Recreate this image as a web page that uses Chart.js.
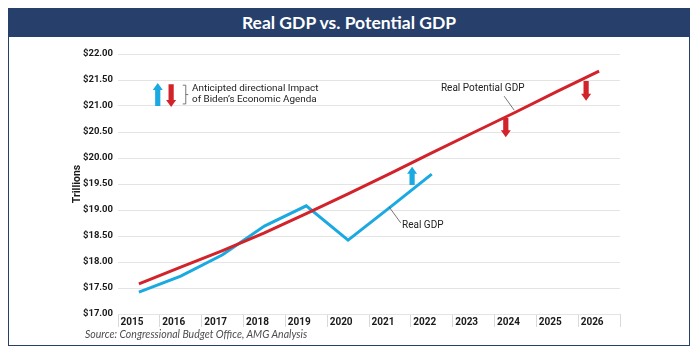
<!DOCTYPE html>
<html>
<head>
<meta charset="utf-8">
<script src="https://cdn.jsdelivr.net/npm/chart.js@4.4.1/dist/chart.umd.min.js"></script>
<style>
  html, body { margin: 0; padding: 0; background: #fff; }
  #wrap { position: relative; width: 699px; height: 353px; overflow: hidden; }
  #frame { position: absolute; left: 8px; top: 8px; width: 682px; height: 338px; box-sizing: border-box; border: 1.5px solid #263f6b; }
  #titlebar { position: absolute; left: 8px; top: 8px; width: 682px; height: 29px; background: #263f6b;
    color: #fff; font: 700 17.5px Lato, sans-serif; text-align: center; line-height: 29px; }
  #source { position: absolute; left: 85px; top: 328px; font: italic 10.5px Lato, sans-serif; color: #4d4d4d; white-space: nowrap; }
  canvas { position: absolute; left: 0; top: 0; }
</style>
</head>
<body>
<div id="wrap">
  <div id="frame"></div>
  <div id="titlebar">Real GDP vs. Potential GDP</div>
  <canvas id="chart" width="699" height="353"></canvas>
  <div id="source">Source: Congressional Budget Office, AMG Analysis</div>
</div>
<script>
const years = [2015, 2016, 2017, 2018, 2019, 2020, 2021, 2022, 2023, 2024, 2025, 2026];
const realGdp = [17.42, 17.73, 18.14, 18.69, 19.08, 18.42, 19.05, 19.69, null, null, null, null];
const potentialGdp = [17.58, 17.90, 18.22, 18.56, 18.93, 19.31, 19.70, 20.10, 20.49, 20.88, 21.28, 21.67];
const yTickValues = [17, 17.5, 18, 18.5, 19, 19.5, 20, 20.5, 21, 21.5, 22];

const BLUE = '#1aa9e1';
const RED = '#d2232a';
const FONT = "Roboto, 'Noto Sans', sans-serif";

// separators sit between the years
const yearEdges = years.map(yr => yr - 0.5).concat(years[years.length - 1] + 0.5);

// callouts, placed in data units (year, trillions)
const arrows = [
  { x: 2015.45, tail: 21.0, head: 21.44, color: BLUE },
  { x: 2015.77, tail: 21.42, head: 20.98, color: RED },
  { x: 2021.53, tail: 19.48, head: 19.83, color: BLUE },
  { x: 2023.77, tail: 20.77, head: 20.40, color: RED },
  { x: 2025.69, tail: 21.48, head: 21.10, color: RED }
];
const notes = [
  { x: 2016.27, y: 21.33, size: 9.9, text: 'Anticipted directional Impact' },
  { x: 2016.27, y: 21.12, size: 9.9, text: 'of Biden\u2019s Economic Agenda' },
  { x: 2022.22, y: 21.33, size: 10, text: 'Real Potential GDP' },
  { x: 2021.29, y: 18.71, size: 10, text: 'Real GDP' }
];
const leaders = [
  [2023.73, 21.19, 2023.97, 20.92],
  [2020.98, 19.06, 2021.26, 18.75]
];

function drawArrow(ctx, cx, tailY, headY, color) {
  const dir = headY < tailY ? -1 : 1;
  const shaft = 2.6, head = 5, headLen = 7;
  const baseY = headY - dir * headLen;
  ctx.fillStyle = color;
  ctx.beginPath();
  ctx.moveTo(cx - shaft, tailY);
  ctx.lineTo(cx - shaft, baseY);
  ctx.lineTo(cx - head, baseY);
  ctx.lineTo(cx, headY);
  ctx.lineTo(cx + head, baseY);
  ctx.lineTo(cx + shaft, baseY);
  ctx.lineTo(cx + shaft, tailY);
  ctx.closePath();
  ctx.fill();
}

const calloutPlugin = {
  id: 'callouts',
  afterDatasetsDraw(chart) {
    const { ctx, scales: { x, y } } = chart;
    ctx.save();
    arrows.forEach(a => {
      drawArrow(ctx, x.getPixelForValue(a.x), y.getPixelForValue(a.tail), y.getPixelForValue(a.head), a.color);
    });

    ctx.strokeStyle = '#555';
    ctx.lineWidth = 0.8;
    leaders.forEach(l => {
      ctx.beginPath();
      ctx.moveTo(x.getPixelForValue(l[0]), y.getPixelForValue(l[1]));
      ctx.lineTo(x.getPixelForValue(l[2]), y.getPixelForValue(l[3]));
      ctx.stroke();
    });

    // bracket next to the legend arrows
    const bx = x.getPixelForValue(2016.12);
    const bt = y.getPixelForValue(21.40);
    const bb = y.getPixelForValue(21.04);
    ctx.beginPath();
    ctx.moveTo(bx - 3, bt);
    ctx.lineTo(bx, bt);
    ctx.lineTo(bx, bb);
    ctx.lineTo(bx - 3, bb);
    ctx.moveTo(bx, (bt + bb) / 2);
    ctx.lineTo(bx + 2.5, (bt + bb) / 2);
    ctx.stroke();

    ctx.fillStyle = '#222';
    ctx.textBaseline = 'middle';
    ctx.textAlign = 'left';
    notes.forEach(n => {
      ctx.font = n.size + 'px ' + FONT;
      ctx.fillText(n.text, x.getPixelForValue(n.x), y.getPixelForValue(n.y));
    });
    ctx.restore();
  }
};

new Chart(document.getElementById('chart'), {
  type: 'line',
  data: {
    datasets: [
      {
        label: 'Real Potential GDP',
        data: years.map((yr, i) => ({ x: yr, y: potentialGdp[i] })),
        borderColor: RED,
        borderWidth: 3,
        pointRadius: 0,
        tension: 0
      },
      {
        label: 'Real GDP',
        data: years.map((yr, i) => ({ x: yr, y: realGdp[i] })),
        borderColor: BLUE,
        borderWidth: 3,
        pointRadius: 0,
        tension: 0
      }
    ]
  },
  options: {
    responsive: false,
    animation: false,
    layout: { padding: { left: 70, right: 79, top: 54, bottom: 19 } },
    plugins: { legend: { display: false }, tooltip: { enabled: false } },
    scales: {
      x: {
        type: 'linear',
        min: yearEdges[0],
        max: yearEdges[yearEdges.length - 1],
        afterBuildTicks: scale => { scale.ticks = yearEdges.map(v => ({ value: v })); },
        afterFit: scale => { scale.height = 20; },
        grid: { drawOnChartArea: false, tickLength: 13, color: '#d9d9d9' },
        border: { display: false },
        ticks: {
          autoSkip: false,
          maxRotation: 0,
          align: 'start',
          padding: -11,
          color: '#1a1a1a',
          font: { family: FONT, size: 10, weight: 'bold' },
          callback: v => {
            const yr = Math.round(v + 0.5);
            return years.includes(yr) ? ' ' + yr : '';
          }
        }
      },
      y: {
        min: 17,
        max: 22,
        afterBuildTicks: scale => { scale.ticks = yTickValues.map(v => ({ value: v })); },
        afterFit: scale => { scale.width = 48; },
        grid: { drawTicks: false, color: '#e4e4e4' },
        border: { display: false },
        ticks: {
          padding: 5,
          color: '#1a1a1a',
          font: { family: FONT, size: 9.5, weight: 'bold' },
          callback: v => '$' + v.toFixed(2)
        },
        title: {
          display: true,
          text: 'Trillions',
          color: '#1a1a1a',
          padding: { top: 1, bottom: 0 },
          font: { family: FONT, size: 10.5, weight: 'bold' }
        }
      }
    }
  },
  plugins: [calloutPlugin]
});
</script>
</body>
</html>
